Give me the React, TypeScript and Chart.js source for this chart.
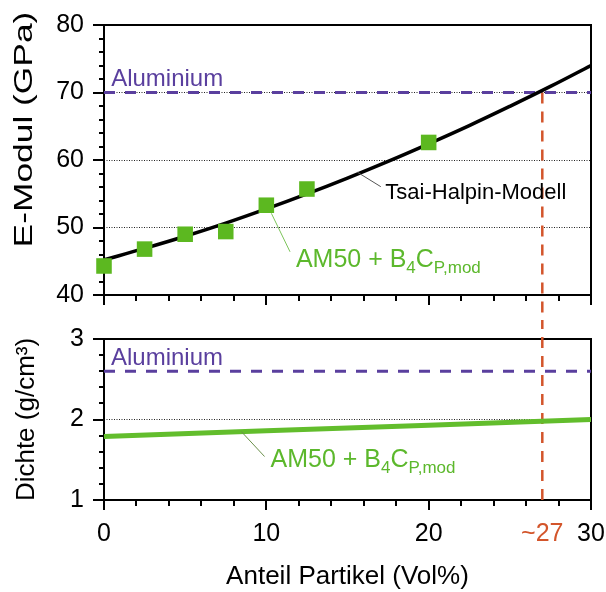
import React, { useEffect, useRef } from 'react';
import { Chart, registerables } from 'chart.js';

Chart.register(...registerables);

// ---------- data ----------
const sampleX = [0, 2.5, 5, 7.5, 10, 12.5, 20];
const sampleE = [44.3, 46.8, 49.0, 49.4, 53.3, 55.7, 62.6];
const modelX = [0, 2.5, 5, 7.5, 10, 12.5, 15, 17.5, 20, 22.5, 25, 27.5, 30];
const modelE = [45.2, 46.9, 48.7, 50.65, 52.75, 54.98, 57.33, 59.8, 62.4, 65.1, 67.95, 70.9, 74.0];
const densityX = [0, 10, 20, 30];
const densityVal = [1.79, 1.86, 1.93, 2.0];
const aluminiumE = 70;
const aluminiumDensity = 2.6;
const crossoverX = 27;
const xTickValues = [0, 10, 20, 27, 30];
const crossoverLabel = '~27';
const xRange = [0, 30];
const eRange = [40, 80];
const densityRange = [1, 3];

// ---------- styles ----------
const FONT = '"Liberation Sans", Arial, Helvetica, sans-serif';
const PURPLE = '#5a3f9e';
const RED = '#d3552b';
const GREEN = '#5cb820';
const GREEN_TEXT = '#5cb82c';
const CLEAR = 'rgba(0,0,0,0)';
const W = 606;
const TOP_H = 320;
const BOT_H = 272;
const PLOT_LEFT = 104;
const PLOT_RIGHT = 591;

type Part = [string, boolean];

function drawRich(ctx: CanvasRenderingContext2D, x: number, y: number, color: string, parts: Part[], main: number, sub: number, drop: number) {
  ctx.fillStyle = color;
  ctx.textAlign = 'left';
  ctx.textBaseline = 'alphabetic';
  let cx = x;
  for (const [t, isSub] of parts) {
    ctx.font = `${isSub ? sub : main}px ${FONT}`;
    ctx.fillText(t, cx, isSub ? y + drop : y);
    cx += ctx.measureText(t).width;
  }
}

function leader(chart: any, x1: number, y1: number, x2: number, y2: number, color: string) {
  const { ctx, scales } = chart;
  ctx.save();
  ctx.strokeStyle = color;
  ctx.lineWidth = 1;
  ctx.beginPath();
  ctx.moveTo(scales.x.getPixelForValue(x1), scales.y.getPixelForValue(y1));
  ctx.lineTo(scales.x.getPixelForValue(x2), scales.y.getPixelForValue(y2));
  ctx.stroke();
  ctx.restore();
}

function label(chart: any, x: number, y: number, color: string, parts: Part[], main: number, sub = 17, drop = 6) {
  const { ctx, scales } = chart;
  ctx.save();
  drawRich(ctx, scales.x.getPixelForValue(x), scales.y.getPixelForValue(y), color, parts, main, sub, drop);
  ctx.restore();
}

function drawTicks(chart: any, xMinor: number, xMajor: number, yMinor: number, yMajor: number) {
  const { ctx, chartArea: a, scales } = chart;
  const xs = scales.x, ys = scales.y;
  ctx.save();
  ctx.strokeStyle = '#000';
  ctx.lineWidth = 2;
  const isMajor = (v: number, m: number) => Math.abs(v / m - Math.round(v / m)) < 1e-6;
  const nx = Math.round((xs.max - xs.min) / xMinor);
  for (let i = 0; i <= nx; i++) {
    const v = xs.min + i * xMinor;
    const px = Math.round(xs.getPixelForValue(v));
    const len = isMajor(v, xMajor) ? 10 : 6;
    ctx.beginPath();
    ctx.moveTo(px, a.bottom);
    ctx.lineTo(px, a.bottom + len);
    ctx.stroke();
  }
  const ny = Math.round((ys.max - ys.min) / yMinor);
  for (let i = 0; i <= ny; i++) {
    const v = ys.min + i * yMinor;
    const py = Math.round(ys.getPixelForValue(v));
    const len = isMajor(v, yMajor) ? 11 : 5;
    ctx.beginPath();
    ctx.moveTo(a.left, py);
    ctx.lineTo(a.left - len, py);
    ctx.stroke();
  }
  ctx.restore();
}

const framePlugin = {
  id: 'frame',
  beforeDatasetsDraw(chart: any) {
    const { ctx, chartArea: a } = chart;
    ctx.save();
    ctx.strokeStyle = '#000';
    ctx.lineWidth = 2;
    ctx.strokeRect(a.left, a.top, a.right - a.left, a.bottom - a.top);
    ctx.restore();
  },
};

function gridColor(ends: number[]) {
  return (c: any) => (c.tick && ends.includes(c.tick.value) ? CLEAR : '#222');
}

function App() {
  const topRef = useRef<HTMLCanvasElement>(null);
  const botRef = useRef<HTMLCanvasElement>(null);

  useEffect(() => {
    const topPlugins = [
      framePlugin,
      {
        id: 'topDecor',
        beforeDatasetsDraw(chart: any) {
          drawTicks(chart, 2, 10, 2, 10);
        },
        afterDatasetsDraw(chart: any) {
          label(chart, 0.44, 71.0, PURPLE, [['Aluminium', false]], 24);
          leader(chart, 17.05, 56.05, 15.6, 58.2, '#555');
          label(chart, 17.33, 54.2, '#000', [['Tsai-Halpin-Modell', false]], 22);
          leader(chart, 11.46, 46.4, 10.31, 52.1, '#7cc45a');
          label(chart, 11.82, 44.2, GREEN_TEXT, [['AM50 + B', false], ['4', true], ['C', false], ['P,mod', true]], 25);
          const { ctx, chartArea: a } = chart;
          ctx.save();
          ctx.translate(25, a.top + 104.5);
          ctx.rotate(-Math.PI / 2);
          ctx.scale(1.36, 1);
          ctx.font = `26px ${FONT}`;
          ctx.fillStyle = '#000';
          ctx.textAlign = 'center';
          ctx.textBaseline = 'middle';
          ctx.fillText('E-Modul (GPa)', 0, 0);
          ctx.restore();
        },
      },
    ];

    const topChart = new Chart(topRef.current as HTMLCanvasElement, {
      type: 'scatter',
      data: {
        datasets: [
          {
            label: 'AM50 + B4C',
            data: sampleX.map((x, i) => ({ x, y: sampleE[i] })),
            pointStyle: 'rect',
            pointRadius: 11,
            pointBackgroundColor: GREEN,
            pointBorderWidth: 0,
            showLine: false,
            clip: false,
          } as any,
          {
            label: 'Tsai-Halpin-Modell',
            data: modelX.map((x, i) => ({ x, y: modelE[i] })),
            showLine: true,
            borderColor: '#000',
            borderWidth: 3.5,
            pointRadius: 0,
            tension: 0.4,
          } as any,
          {
            label: 'crossover',
            data: [{ x: crossoverX, y: aluminiumE }, { x: crossoverX, y: eRange[0] - 10 }],
            showLine: true,
            borderColor: RED,
            borderWidth: 2.5,
            borderDash: [11, 8],
            pointRadius: 0,
            clip: false,
          } as any,
          {
            label: 'Aluminium',
            data: [{ x: xRange[0], y: aluminiumE }, { x: xRange[1], y: aluminiumE }],
            showLine: true,
            borderColor: PURPLE,
            borderWidth: 3,
            borderDash: [11, 10],
            pointRadius: 0,
          } as any,
        ],
      },
      options: {
        responsive: false,
        animation: false,
        devicePixelRatio: 1,
        layout: { padding: { top: 25, right: W - PLOT_RIGHT, bottom: 0, left: 0 } },
        plugins: { legend: { display: false }, tooltip: { enabled: false } },
        scales: {
          x: {
            type: 'linear',
            min: xRange[0],
            max: xRange[1],
            ticks: { display: false, padding: 0 },
            grid: { display: false, drawTicks: false },
            border: { display: false },
            afterFit: (s: any) => { s.height = TOP_H - 295; },
          },
          y: {
            type: 'linear',
            min: eRange[0],
            max: eRange[1],
            ticks: { stepSize: 10, color: '#000', padding: 0, font: { family: FONT, size: 25 } },
            grid: { drawTicks: true, tickLength: 20, tickColor: CLEAR, lineWidth: 1, color: gridColor(eRange) },
            border: { display: false, dash: [1, 1.5] },
            afterFit: (s: any) => { s.width = PLOT_LEFT; },
          },
        },
      } as any,
      plugins: topPlugins as any,
    });

    const botPlugins = [
      framePlugin,
      {
        id: 'botDecor',
        beforeDatasetsDraw(chart: any) {
          drawTicks(chart, 2, 10, 0.2, 1);
        },
        afterDatasetsDraw(chart: any) {
          label(chart, 0.43, 2.68, PURPLE, [['Aluminium', false]], 24);
          leader(chart, 9.89, 1.54, 8.46, 1.85, '#6a8f4a');
          label(chart, 10.26, 1.41, GREEN_TEXT, [['AM50 + B', false], ['4', true], ['C', false], ['P,mod', true]], 25);
        },
      },
    ];

    const botChart = new Chart(botRef.current as HTMLCanvasElement, {
      type: 'scatter',
      data: {
        datasets: [
          {
            label: 'AM50 + B4C Dichte',
            data: densityX.map((x, i) => ({ x, y: densityVal[i] })),
            showLine: true,
            borderColor: '#62bd2c',
            borderWidth: 5,
            pointRadius: 0,
          } as any,
          {
            label: 'Aluminium',
            data: [{ x: xRange[0], y: aluminiumDensity }, { x: xRange[1], y: aluminiumDensity }],
            showLine: true,
            borderColor: PURPLE,
            borderWidth: 3,
            borderDash: [11, 10],
            pointRadius: 0,
          } as any,
          {
            label: 'crossover',
            data: [{ x: crossoverX, y: densityRange[0] }, { x: crossoverX, y: densityRange[1] + 0.6 }],
            showLine: true,
            borderColor: RED,
            borderWidth: 2.5,
            borderDash: [11, 8],
            pointRadius: 0,
            clip: false,
          } as any,
        ],
      },
      options: {
        responsive: false,
        animation: false,
        devicePixelRatio: 1,
        layout: { padding: { top: 19, right: W - PLOT_RIGHT, bottom: 0, left: 0 } },
        plugins: { legend: { display: false }, tooltip: { enabled: false } },
        scales: {
          x: {
            type: 'linear',
            min: xRange[0],
            max: xRange[1],
            afterBuildTicks: (s: any) => { s.ticks = xTickValues.map((v) => ({ value: v })); },
            ticks: {
              autoSkip: false,
              maxRotation: 0,
              padding: 0,
              font: { family: FONT, size: 25 },
              color: (c: any) => (c.tick && c.tick.value === crossoverX ? RED : '#000'),
              callback: (v: any) => (v === crossoverX ? crossoverLabel : String(v)),
            },
            grid: { display: true, drawOnChartArea: false, drawTicks: true, tickLength: 19, tickColor: CLEAR, color: CLEAR },
            border: { display: false },
            title: {
              display: true,
              text: 'Anteil Partikel (Vol%)',
              color: '#000',
              font: { family: FONT, size: 26, lineHeight: 1.0 },
              padding: { top: 0, bottom: 2 },
            },
            afterFit: (s: any) => { s.height = BOT_H - 19 - 161; },
          },
          y: {
            type: 'linear',
            min: densityRange[0],
            max: densityRange[1],
            ticks: { stepSize: 1, color: '#000', padding: 0, font: { family: FONT, size: 25 } },
            grid: { drawTicks: true, tickLength: 20, tickColor: CLEAR, lineWidth: 1, color: gridColor(densityRange) },
            border: { display: false, dash: [1, 1.5] },
            title: {
              display: true,
              text: 'Dichte (g/cm³)',
              color: '#000',
              font: { family: FONT, size: 26 },
              padding: { top: 11, bottom: 0 },
            },
            afterFit: (s: any) => { s.width = PLOT_LEFT; },
          },
        },
      } as any,
      plugins: botPlugins as any,
    });

    return () => {
      topChart.destroy();
      botChart.destroy();
    };
  }, []);

  return (
    <div style={{ position: 'absolute', left: 0, top: 0, width: W, height: TOP_H + BOT_H, background: '#fff' }}>
      <canvas ref={topRef} width={W} height={TOP_H} style={{ position: 'absolute', left: 0, top: 0, width: W, height: TOP_H }} />
      <canvas ref={botRef} width={W} height={BOT_H} style={{ position: 'absolute', left: 0, top: TOP_H, width: W, height: BOT_H }} />
    </div>
  );
}

export default App;
